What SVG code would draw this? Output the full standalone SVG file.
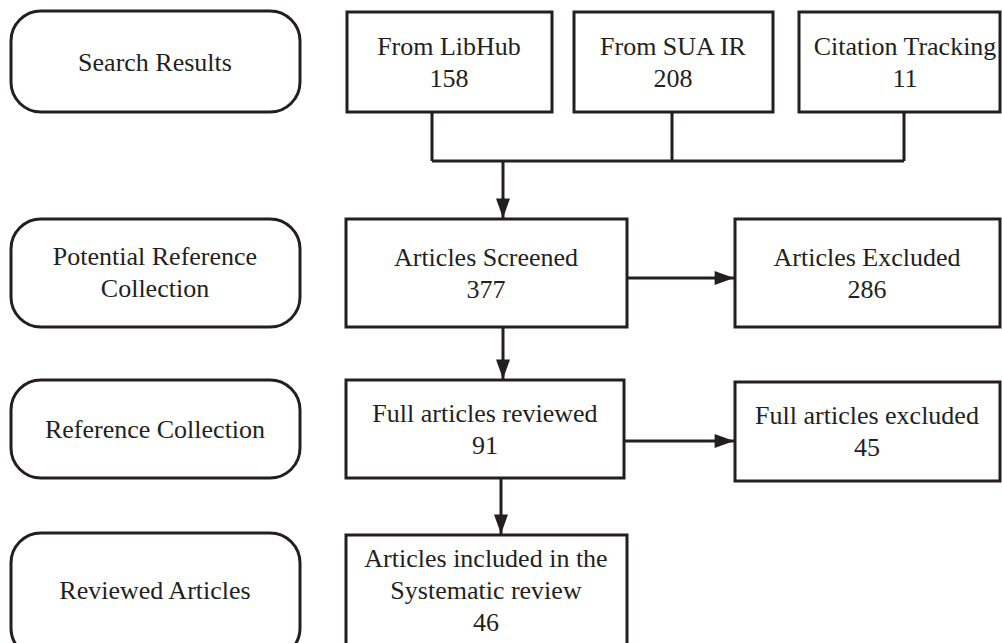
<svg xmlns="http://www.w3.org/2000/svg" width="1002" height="643" viewBox="0 0 1002 643">
<style>
.box{fill:#fff;stroke:#231f20;stroke-width:3}
.ln{fill:none;stroke:#231f20;stroke-width:3}
text{font-family:"Liberation Serif","Times New Roman",serif;font-size:26px;fill:#231f20;text-anchor:middle}
</style>
<defs>
<marker id="ah" markerUnits="userSpaceOnUse" markerWidth="20" markerHeight="14" viewBox="0 0 18 13" refX="18" refY="6.5" orient="auto">
<path d="M0,0 L18,6.5 L0,13 Z" fill="#231f20"/>
</marker>
</defs>
<rect width="1002" height="643" fill="#fff"/>
<g id="stage-search"><rect class="box" x="11" y="11" width="289" height="101" rx="30"/><text x="155" y="71">Search Results</text></g>
<g id="stage-potential"><rect class="box" x="11" y="219" width="289" height="108" rx="30"/><text x="155" y="265">Potential Reference</text><text x="155" y="297">Collection</text></g>
<g id="stage-reference"><rect class="box" x="11" y="380" width="289" height="98" rx="30"/><text x="155" y="438">Reference Collection</text></g>
<g id="stage-reviewed"><rect class="box" x="11" y="533" width="289" height="125" rx="30"/><text x="155" y="599">Reviewed Articles</text></g>
<g id="libhub"><rect class="box" x="347" y="12" width="205" height="100"/><text x="449" y="55">From LibHub</text><text x="449" y="87">158</text></g>
<g id="suair"><rect class="box" x="574" y="12" width="199" height="100"/><text x="673" y="55">From SUA IR</text><text x="673" y="87">208</text></g>
<g id="citation"><rect class="box" x="799" y="12" width="201" height="100"/><text x="905" y="55">Citation Tracking</text><text x="905" y="87">11</text></g>
<g id="screened"><rect class="box" x="346" y="219" width="281" height="108"/><text x="486" y="266">Articles Screened</text><text x="486" y="298">377</text></g>
<g id="excluded"><rect class="box" x="735" y="219" width="265" height="108"/><text x="867" y="266">Articles Excluded</text><text x="867" y="298">286</text></g>
<g id="fullreviewed"><rect class="box" x="346" y="380" width="278" height="98"/><text x="485" y="422">Full articles reviewed</text><text x="485" y="454">91</text></g>
<g id="fullexcluded"><rect class="box" x="735" y="382" width="265" height="99"/><text x="867" y="424">Full articles excluded</text><text x="867" y="456">45</text></g>
<g id="included"><rect class="box" x="346" y="535" width="281" height="120"/><text x="486" y="567">Articles included in the</text><text x="486" y="599">Systematic review</text><text x="486" y="631">46</text></g>
<g id="connectors">
<path class="ln" d="M432,112 V161 M672,112 V161 M904,112 V161 M432,161 H904"/>
<path class="ln" d="M503,161 V218" marker-end="url(#ah)"/>
<path class="ln" d="M627,278 H734" marker-end="url(#ah)"/>
<path class="ln" d="M503,327 V379" marker-end="url(#ah)"/>
<path class="ln" d="M624,441 H734" marker-end="url(#ah)"/>
<path class="ln" d="M501,478 V534" marker-end="url(#ah)"/>
</g>
</svg>
